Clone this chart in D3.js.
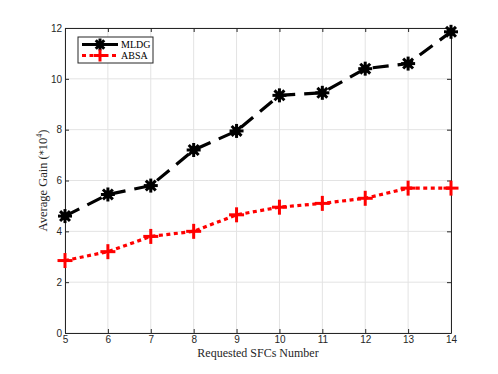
<!DOCTYPE html>
<html>
<head>
<meta charset="utf-8">
<script src="https://cdn.jsdelivr.net/npm/d3@7"></script>
<style>
  body { margin: 0; background: #fff; }
  .tick text { font-family: "Liberation Sans", Arial, sans-serif; font-size: 10px; fill: #262626; }
</style>
</head>
<body>
<div id="chart"></div>
<script>
// data
const sfcs = [5, 6, 7, 8, 9, 10, 11, 12, 13, 14];
const mldg = [4.6, 5.45, 5.8, 7.2, 7.95, 9.35, 9.45, 10.4, 10.6, 11.85];
const absa = [2.85, 3.2, 3.8, 4.0, 4.65, 4.95, 5.1, 5.3, 5.7, 5.7];
const yTicks = [0, 2, 4, 6, 8, 10, 12];

const width = 498;
const height = 374;
const margin = {top: 28, right: 47, bottom: 41, left: 65};
const w = width - margin.left - margin.right;
const h = height - margin.top - margin.bottom;

const svg = d3.select('#chart').append('svg')
  .attr('width', width)
  .attr('height', height);

const g = svg.append('g')
  .attr('transform', 'translate(' + margin.left + ',' + margin.top + ')');

const x = d3.scaleLinear().domain([5, 14]).range([0, w]);
const y = d3.scaleLinear().domain([0, 12]).range([h, 0]);

// grid
g.append('g').selectAll('line.vg').data(sfcs).enter().append('line')
  .attr('x1', d => x(d)).attr('x2', d => x(d))
  .attr('y1', 0).attr('y2', h)
  .attr('stroke', '#e3e3e3').attr('stroke-width', 1);
g.append('g').selectAll('line.hg').data(yTicks).enter().append('line')
  .attr('x1', 0).attr('x2', w)
  .attr('y1', d => y(d)).attr('y2', d => y(d))
  .attr('stroke', '#e3e3e3').attr('stroke-width', 1);

// axes (ticks inside, box on)
g.append('g').attr('transform', 'translate(0,' + h + ')')
  .call(d3.axisBottom(x).tickValues(sfcs).tickSizeInner(-4).tickSizeOuter(0).tickPadding(3));
g.append('g')
  .call(d3.axisLeft(y).tickValues(yTicks).tickSizeInner(-4).tickSizeOuter(0).tickPadding(3));
g.append('g')
  .call(d3.axisTop(x).tickValues(sfcs).tickSizeInner(-4).tickSizeOuter(0).tickFormat(''));
g.append('g').attr('transform', 'translate(' + w + ',0)')
  .call(d3.axisRight(y).tickValues(yTicks).tickSizeInner(-4).tickSizeOuter(0).tickFormat(''));
g.selectAll('.domain').attr('stroke', '#262626');
g.selectAll('.tick line').attr('stroke', '#262626');

// lines
const line = d3.line().x((d, i) => x(sfcs[i])).y(d => y(d));

g.append('path').datum(mldg)
  .attr('d', line)
  .attr('fill', 'none').attr('stroke', '#000').attr('stroke-width', 3.2)
  .attr('stroke-dasharray', '16,9');

g.append('path').datum(absa)
  .attr('d', line)
  .attr('fill', 'none').attr('stroke', '#ff0000').attr('stroke-width', 3.2)
  .attr('stroke-dasharray', '4,3.5');

// markers
function star(sel, r) {
  for (let k = 0; k < 4; k++) {
    const a = k * Math.PI / 4;
    sel.append('line')
      .attr('x1', -r * Math.cos(a)).attr('y1', -r * Math.sin(a))
      .attr('x2', r * Math.cos(a)).attr('y2', r * Math.sin(a))
      .attr('stroke', '#000').attr('stroke-width', 3);
  }
  sel.append('circle').attr('r', r * 0.6).attr('fill', '#000');
}
function plus(sel, r) {
  sel.append('line').attr('x1', -r).attr('x2', r).attr('y1', 0).attr('y2', 0)
    .attr('stroke', '#ff0000').attr('stroke-width', 3);
  sel.append('line').attr('y1', -r).attr('y2', r).attr('x1', 0).attr('x2', 0)
    .attr('stroke', '#ff0000').attr('stroke-width', 3);
}

g.selectAll('g.mldg').data(mldg).enter().append('g')
  .attr('transform', (d, i) => 'translate(' + x(sfcs[i]) + ',' + y(d) + ')')
  .each(function() { star(d3.select(this), 7); });

g.selectAll('g.absa').data(absa).enter().append('g')
  .attr('transform', (d, i) => 'translate(' + x(sfcs[i]) + ',' + y(d) + ')')
  .each(function() { plus(d3.select(this), 7.5); });

// axis labels
svg.append('text')
  .attr('x', margin.left + w / 2).attr('y', 357)
  .attr('text-anchor', 'middle')
  .style('font-family', '"Liberation Serif", "Times New Roman", serif')
  .style('font-size', '12px').attr('fill', '#262626')
  .text('Requested SFCs Number');

const yl = svg.append('text')
  .attr('transform', 'translate(47,' + (margin.top + h / 2) + ') rotate(-90)')
  .attr('text-anchor', 'middle')
  .style('font-family', '"Liberation Serif", "Times New Roman", serif')
  .style('font-size', '12.5px').attr('fill', '#262626');
yl.append('tspan').text('Average Gain (');
yl.append('tspan').text('*').style('font-family', '"DejaVu Sans", sans-serif').style('font-size', '10px');
yl.append('tspan').text('10');
yl.append('tspan').text('4').attr('dy', -5).style('font-size', '8px');
yl.append('tspan').text(')').attr('dy', 5);

// legend
const leg = svg.append('g').attr('transform', 'translate(78,37)');
leg.append('rect').attr('width', 75).attr('height', 26)
  .attr('fill', '#fff').attr('stroke', '#262626').attr('stroke-width', 1);
const legItems = [
  {name: 'MLDG', color: '#000', dash: null, mark: star, y: 7.5},
  {name: 'ABSA', color: '#ff0000', dash: '4,3.5', mark: plus, y: 18.5}
];
legItems.forEach(it => {
  leg.append('line').attr('x1', 4).attr('x2', 40).attr('y1', it.y).attr('y2', it.y)
    .attr('stroke', it.color).attr('stroke-width', 3.2)
    .attr('stroke-dasharray', it.dash);
  const m = leg.append('g').attr('transform', 'translate(22,' + it.y + ')');
  it.mark(m, 6);
  leg.append('text').attr('x', 43).attr('y', it.y + 3.5)
    .style('font-family', '"Liberation Serif", "Times New Roman", serif')
    .style('font-size', '10px').attr('fill', '#000')
    .text(it.name);
});
</script>
</body>
</html>
